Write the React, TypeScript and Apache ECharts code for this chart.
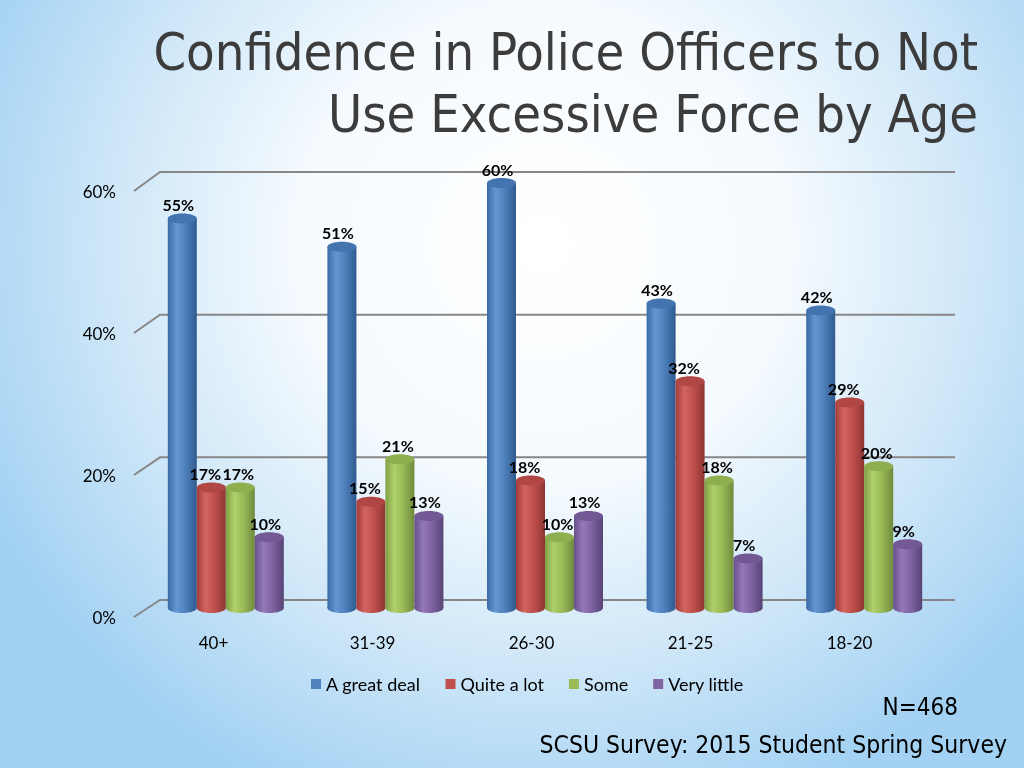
import React, { useEffect, useRef } from "react";
import * as echarts from "echarts";

const categories = ["40+", "31-39", "26-30", "21-25", "18-20"];
const seriesNames = ["A great deal", "Quite a lot", "Some", "Very little"];
const greatDeal = [55, 51, 60, 43, 42];
const quiteALot = [17, 15, 18, 32, 29];
const some = [17, 21, 10, 18, 20];
const veryLittle = [10, 13, 13, 7, 9];
const yTicks = [0, 20, 40, 60];

const palette = [
  { base: "#4f81bd", dark: "#2f5a8e", light: "#6496d4", edge: "#3a6aa5", top: "#4474b0" },
  { base: "#c0504d", dark: "#8e3532", light: "#d4645f", edge: "#a03c3a", top: "#b04744" },
  { base: "#9bbb59", dark: "#6f8a3c", light: "#b0d06c", edge: "#7f9e44", top: "#8faf4f" },
  { base: "#8064a2", dark: "#574474", light: "#9478b8", edge: "#65508a", top: "#735896" },
];

const TITLE_FONT = "'DejaVu Sans Condensed', 'DejaVu Sans', sans-serif";
const BODY_FONT = "Lato, 'Open Sans', sans-serif";

export default function App() {
  const ref = useRef<HTMLDivElement>(null);

  useEffect(() => {
    if (!ref.current) return;
    const chart = echarts.init(ref.current, undefined, { renderer: "svg" });
    const allData = [greatDeal, quiteALot, some, veryLittle];
    const barW = 29;
    const labelDx = [-4, -6, -2, -4];

    const cylSeries = allData.map((vals, si) => {
      const c = palette[si];
      const grad = new echarts.graphic.LinearGradient(0, 0, 1, 0, [
        { offset: 0, color: c.edge },
        { offset: 0.3, color: c.light },
        { offset: 0.6, color: c.base },
        { offset: 1, color: c.dark },
      ]);
      return {
        type: "custom",
        name: seriesNames[si],
        xAxisIndex: 0,
        yAxisIndex: 0,
        itemStyle: { color: c.base },
        clip: false,
        encode: { x: 0, y: 1 },
        data: vals.map((v, i) => [i, v]),
        renderItem: (params: any, api: any) => {
          const idx = api.value(0);
          const v = api.value(1);
          const topPt = api.coord([idx, v]);
          const botPt = api.coord([idx, 0]);
          const cx = topPt[0] + (si - 1.5) * barW;
          const rx = barW / 2;
          const ry = 5;
          return {
            type: "group",
            children: [
              {
                type: "ellipse",
                shape: { cx, cy: botPt[1], rx, ry },
                style: { fill: grad },
              },
              {
                type: "rect",
                shape: { x: cx - rx, y: topPt[1], width: barW, height: botPt[1] - topPt[1] },
                style: { fill: grad },
              },
              {
                type: "ellipse",
                shape: { cx, cy: topPt[1], rx, ry },
                style: { fill: c.top },
              },
              {
                type: "text",
                x: cx + labelDx[si],
                y: topPt[1] - ry - 1,
                style: {
                  text: v + "%",
                  font: "bold 16px " + BODY_FONT,
                  fill: "#000",
                  textAlign: "center",
                  textVerticalAlign: "bottom",
                  align: "center",
                  verticalAlign: "bottom",
                },
              },
            ],
          };
        },
      };
    });

    const frameSeries = {
      type: "custom",
      name: "frame",
      xAxisIndex: 1,
      yAxisIndex: 1,
      silent: true,
      clip: false,
      encode: { x: 0, y: 1 },
      data: yTicks.map((v) => [0, v]),
      renderItem: (params: any, api: any) => {
        const v = api.value(1);
        const p = api.coord([0, v]);
        const band = api.size([1, 0])[0];
        const x0 = p[0] - band / 2;
        const xEnd = x0 + band * categories.length;
        const dy = 17 + v / 30;
        return {
          type: "polyline",
          shape: {
            points: [
              [x0, p[1]],
              [x0 + 26, p[1] - dy],
              [xEnd + 26, p[1] - dy],
            ],
          },
          style: { stroke: "#878787", lineWidth: 2, fill: "none" },
        };
      },
    };

    chart.setOption({
      animation: false,
      backgroundColor: "transparent",
      legend: {
        data: seriesNames,
        left: 306,
        top: 670,
        icon: "rect",
        itemWidth: 10,
        itemHeight: 10,
        itemGap: 25,
        textStyle: { fontFamily: BODY_FONT, fontSize: 18, color: "#000" },
      },
      grid: [
        { left: 146, right: 80, top: 183, bottom: 160 },
        { left: 134, right: 95, top: 191, bottom: 151 },
      ],
      xAxis: [
        {
          type: "category",
          gridIndex: 0,
          data: categories,
          show: false,
        },
        {
          type: "category",
          gridIndex: 1,
          data: categories,
          axisLine: { show: false },
          axisTick: { show: false },
          axisLabel: {
            margin: 17,
            fontFamily: BODY_FONT,
            fontSize: 17,
            color: "#000",
          },
        },
      ],
      yAxis: [
        {
          type: "value",
          gridIndex: 0,
          min: 0,
          max: 60,
          interval: 20,
          show: false,
        },
        {
          type: "value",
          gridIndex: 1,
          min: 0,
          max: 60,
          interval: 20,
          axisLine: { show: false },
          axisTick: { show: false },
          splitLine: { show: false },
          axisLabel: {
            margin: 18,
            formatter: (v: number) => v + "%",
            fontFamily: BODY_FONT,
            fontSize: 17,
            color: "#000",
          },
        },
      ],
      graphic: [
        {
          type: "text",
          right: 46,
          top: 26,
          style: {
            text: "Confidence in Police Officers to Not",
            font: "52px " + TITLE_FONT,
            fill: "#3c3c3c",
          },
        },
        {
          type: "text",
          right: 46,
          top: 88,
          style: {
            text: "Use Excessive Force by Age",
            font: "52px " + TITLE_FONT,
            fill: "#3c3c3c",
          },
        },
        {
          type: "text",
          right: 66,
          top: 695,
          style: { text: "N=468", font: "24px " + TITLE_FONT, fill: "#000" },
        },
        {
          type: "text",
          right: 17,
          top: 732,
          style: {
            text: "SCSU Survey: 2015 Student Spring Survey",
            font: "24.5px " + TITLE_FONT,
            fill: "#000",
          },
        },
      ],
      series: [frameSeries, ...cylSeries],
    });
    return () => chart.dispose();
  }, []);

  return (
    <div
      style={{
        position: "fixed",
        left: 0,
        top: 0,
        width: 1024,
        height: 768,
        background:
          "radial-gradient(ellipse 60% 78% at 53% 32%, #ffffff 0%, #f5fafe 40%, #cfe7f8 70%, #a2d1f3 100%)",
      }}
    >
      <div ref={ref} style={{ width: 1024, height: 768 }} />
    </div>
  );
}
